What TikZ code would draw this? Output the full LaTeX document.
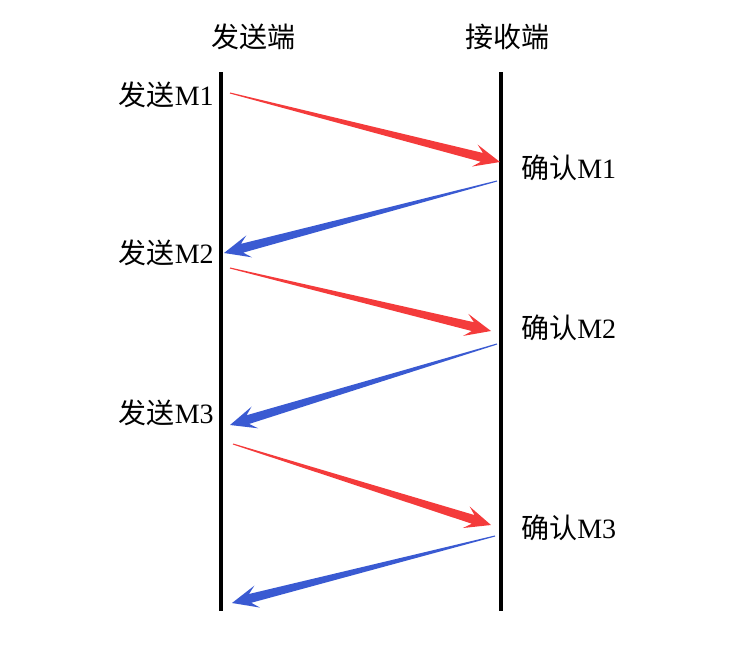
\documentclass[tikz,border=0pt]{standalone}
\usepackage{fontspec}
\setmainfont{Liberation Serif}
\newfontfamily\cjk{Noto Sans CJK SC}
\usetikzlibrary{calc}
\definecolor{SendRed}{HTML}{F43B3B}
\definecolor{AckBlue}{HTML}{3A5AD2}

% tapered arrow from #1 to #2 in colour #3
\newcommand{\sigarrow}[3]{%
  \coordinate (tmpj) at ($(#2)!14pt!(#1)$);
  \coordinate (tmpb) at ($(#2)!19.5pt!(#1)$);
  \fill[#3] ($(#1)!0.4pt!90:(#2)$) -- ($(tmpj)!3.4pt!90:(#2)$) -- ($(tmpb)!8.5pt!90:(#2)$) -- (#2)
    -- ($(tmpb)!8.5pt!-90:(#2)$) -- ($(tmpj)!3.4pt!-90:(#2)$) -- ($(#1)!0.4pt!-90:(#2)$) -- cycle;
}

\begin{document}
\begin{tikzpicture}[
  x=0.75pt, y=-0.75pt,
  lbl/.style={font=\fontsize{21}{25}\selectfont, inner sep=0pt},
  lifeline/.style={line width=3pt, black}
]
  \useasboundingbox (0,0) rectangle (729,662);

  % titles
  \node[lbl] (sender) at (253,37) {\cjk 发送端};
  \node[lbl] (receiver) at (507,37) {\cjk 接收端};

  % lifelines
  \coordinate (stop) at (221,72);
  \coordinate (sbot) at (221,611);
  \coordinate (rtop) at (501,72);
  \coordinate (rbot) at (501,611);
  \draw[lifeline] (stop) -- (sbot);
  \draw[lifeline] (rtop) -- (rbot);

  % labels
  \node[lbl, anchor=east] (send1) at (214,95) {{\cjk 发送}M1};
  \node[lbl, anchor=east] (send2) at (214,253) {{\cjk 发送}M2};
  \node[lbl, anchor=east] (send3) at (214,413) {{\cjk 发送}M3};
  \node[lbl, anchor=west] (ack1) at (521,168) {{\cjk 确认}M1};
  \node[lbl, anchor=west] (ack2) at (521,328) {{\cjk 确认}M2};
  \node[lbl, anchor=west] (ack3) at (521,528) {{\cjk 确认}M3};

  % message end points
  \coordinate (m1a) at (230,93);  \coordinate (m1b) at (500,162);
  \coordinate (a1a) at (497,181); \coordinate (a1b) at (224,253);
  \coordinate (m2a) at (230,268); \coordinate (m2b) at (491,331);
  \coordinate (a2a) at (497,344); \coordinate (a2b) at (230,425);
  \coordinate (m3a) at (233,444); \coordinate (m3b) at (491,525);
  \coordinate (a3a) at (495,536); \coordinate (a3b) at (232,603);

  \sigarrow{m1a}{m1b}{SendRed}
  \sigarrow{a1a}{a1b}{AckBlue}
  \sigarrow{m2a}{m2b}{SendRed}
  \sigarrow{a2a}{a2b}{AckBlue}
  \sigarrow{m3a}{m3b}{SendRed}
  \sigarrow{a3a}{a3b}{AckBlue}
\end{tikzpicture}
\end{document}
